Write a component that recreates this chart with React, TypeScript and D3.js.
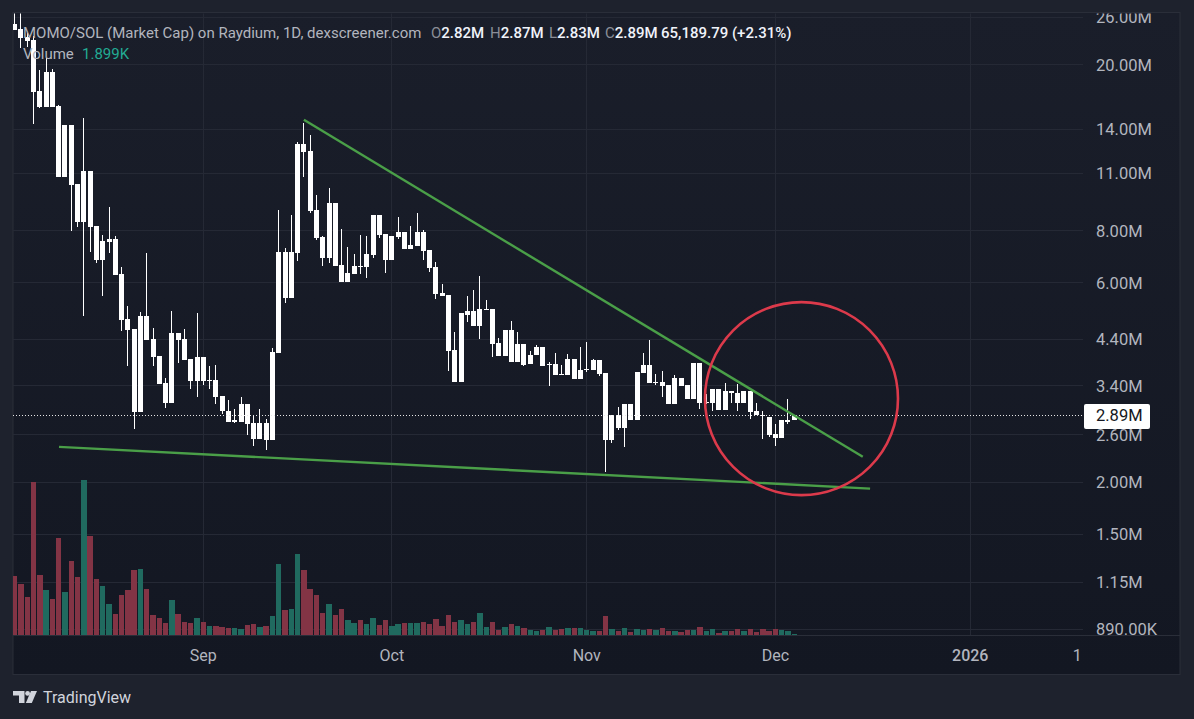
import * as d3 from "d3";

// prices in millions, one entry per daily candle starting 2 Aug 2025
const opens = [
  25.0, 24.3, 23.3, 22.9, 17.3, 15.8, 19.2, 15.9, 10.77, 14.3,
  10.35, 8.4, 11.13, 8.22, 6.82, 7.53, 7.65, 6.31, 4.93, 4.66,
  2.95, 5.01, 4.41, 4.01, 3.45, 3.1, 4.56, 4.41, 3.94, 3.5,
  3.99, 3.5, 3.52, 3.22, 2.96, 2.79, 2.79, 3.07, 2.77, 2.54,
  2.77, 2.53, 4.08, 7.13, 5.53, 7.09, 12.9, 12.42, 8.97, 7.74,
  6.89, 9.32, 6.63, 6.04, 6.31, 6.6, 6.56, 7.0, 8.74, 7.87,
  6.82, 7.74, 7.96, 7.25, 7.37, 7.96, 7.2, 6.56, 5.68, 5.62,
  4.15, 3.48, 5.03, 5.15, 4.73, 5.18, 5.2, 4.31, 4.01, 4.63,
  3.89, 4.29, 3.84, 4.03, 4.22, 3.82, 3.84, 3.64, 3.62, 3.94,
  3.54, 3.72, 3.72, 3.92, 3.66, 2.53, 2.9, 2.7, 3.07, 2.82,
  3.66, 3.82, 3.46, 3.48, 3.41, 3.07, 3.56, 3.41, 3.17, 3.86,
  3.11, 3.1, 3.35, 2.98, 3.3, 3.27, 3.1, 3.3, 2.96, 2.9,
  2.87, 2.61, 2.55, 2.79, 2.82,
];
const closes = [
  24.2, 23.1, 22.8, 17.2, 15.8, 19.2, 15.8, 10.77, 14.3, 10.3,
  8.4, 11.13, 8.18, 6.82, 7.57, 7.65, 6.28, 4.9, 4.63, 2.95,
  5.01, 4.38, 3.99, 3.43, 3.1, 4.56, 4.38, 3.92, 3.5, 3.99,
  3.5, 3.52, 3.2, 2.96, 2.79, 2.82, 3.07, 2.76, 2.54, 2.77,
  2.53, 4.1, 7.13, 5.53, 7.13, 12.9, 12.35, 8.92, 7.7, 6.89,
  9.32, 6.6, 6.04, 6.35, 6.6, 6.56, 7.05, 8.74, 7.83, 6.82,
  7.78, 7.96, 7.25, 7.41, 7.96, 7.17, 6.53, 5.65, 5.59, 4.13,
  3.48, 5.07, 5.15, 4.73, 5.2, 5.2, 4.29, 4.01, 4.63, 3.89,
  4.29, 3.82, 4.04, 4.22, 3.8, 3.84, 3.62, 3.62, 3.94, 3.54,
  3.72, 3.74, 3.92, 3.64, 2.53, 2.9, 2.7, 3.07, 2.82, 3.68,
  3.82, 3.45, 3.48, 3.39, 3.07, 3.56, 3.39, 3.17, 3.86, 3.1,
  3.12, 3.35, 2.98, 3.3, 3.27, 3.1, 3.3, 2.95, 2.9, 2.88,
  2.6, 2.55, 2.82, 2.82, 2.89,
];
const highs = [
  26.6, 26.6, 23.8, 23.4, 19.4, 20.7, 19.5, 16.0, 14.3, 14.3,
  10.35, 14.9, 11.13, 8.22, 7.83, 9.13, 7.78, 6.56, 5.29, 4.66,
  5.12, 7.09, 4.68, 4.01, 3.56, 5.15, 4.56, 4.66, 3.94, 5.07,
  3.99, 3.8, 3.82, 3.22, 3.15, 3.0, 3.2, 3.07, 2.9, 3.0,
  2.84, 4.19, 8.97, 7.29, 8.74, 13.05, 14.5, 13.56, 9.77, 7.78,
  10.1, 9.32, 8.09, 7.33, 7.05, 7.83, 7.78, 8.74, 8.74, 7.87,
  7.78, 8.64, 7.96, 8.22, 8.82, 8.05, 7.2, 6.75, 5.98, 5.62,
  4.58, 5.07, 5.59, 5.78, 6.24, 5.47, 5.2, 4.43, 4.63, 4.87,
  4.58, 4.29, 4.12, 4.26, 4.22, 3.89, 4.08, 3.82, 4.05, 3.94,
  4.22, 4.34, 3.94, 3.92, 3.66, 2.9, 3.03, 3.07, 3.07, 3.68,
  4.08, 4.38, 3.64, 3.7, 3.41, 3.62, 3.56, 3.41, 3.86, 3.86,
  3.25, 3.35, 3.35, 3.45, 3.3, 3.43, 3.3, 3.3, 3.1, 2.96,
  2.87, 2.76, 2.82, 3.17, 2.89,
];
const lows = [
  24.2, 21.9, 22.05, 14.43, 15.7, 15.8, 15.8, 10.77, 10.77, 8.0,
  8.18, 5.01, 7.13, 6.71, 5.59, 7.09, 6.28, 4.6, 3.8, 2.68,
  2.95, 4.38, 3.8, 3.43, 3.01, 3.1, 3.86, 3.92, 3.35, 3.2,
  3.41, 3.35, 3.07, 2.91, 2.79, 2.77, 2.79, 2.6, 2.44, 2.54,
  2.39, 2.53, 4.08, 5.36, 5.53, 6.78, 10.77, 8.82, 7.61, 6.6,
  6.71, 6.6, 6.04, 6.04, 6.31, 6.31, 6.18, 6.89, 7.7, 6.35,
  6.82, 7.65, 7.25, 7.25, 7.37, 6.82, 6.38, 5.5, 5.59, 3.7,
  3.48, 3.48, 4.84, 4.73, 4.41, 5.18, 3.99, 4.01, 4.01, 3.89,
  3.89, 3.8, 3.84, 4.03, 3.8, 3.39, 3.62, 3.62, 3.62, 3.54,
  3.54, 3.68, 3.72, 3.6, 2.12, 2.48, 2.66, 2.43, 2.82, 2.82,
  3.66, 3.45, 3.41, 3.2, 3.07, 3.07, 3.39, 3.17, 3.17, 3.0,
  3.07, 2.96, 2.98, 2.98, 3.1, 2.96, 3.1, 2.84, 2.9, 2.54,
  2.57, 2.44, 2.55, 2.76, 2.82,
];
// volume in thousands
const volumes = [
  177, 153, 114, 459, 180, 135, 108, 291, 129, 222,
  174, 465, 297, 168, 147, 93, 63, 120, 135, 195,
  198, 138, 60, 51, 36, 105, 63, 39, 36, 51,
  39, 27, 27, 24, 21, 21, 18, 30, 33, 24,
  27, 57, 213, 75, 78, 243, 195, 138, 120, 66,
  93, 60, 78, 45, 36, 45, 33, 51, 30, 45,
  27, 33, 36, 36, 36, 39, 33, 48, 27, 60,
  39, 45, 33, 39, 66, 24, 39, 15, 24, 33,
  27, 21, 15, 12, 15, 24, 15, 18, 21, 21,
  21, 15, 12, 12, 57, 18, 12, 21, 9, 18,
  15, 18, 15, 21, 12, 12, 9, 15, 15, 24,
  12, 18, 6, 12, 12, 18, 12, 18, 9, 18,
  12, 18, 15, 12, 1.899,
];

const priceTicks = [26, 20, 14, 11, 8, 6, 4.4, 3.4, 2.6, 2, 1.5, 1.15, 0.89];
const timeTicks = [
  { day: 30, label: "Sep", grid: true },
  { day: 60, label: "Oct", grid: true },
  { day: 91, label: "Nov", grid: true },
  { day: 121, label: "Dec", grid: true },
  { day: 152, label: "2026", grid: true },
  { day: 169, label: "1", grid: false },
];
const lastPrice = 2.89;

// drawn annotations: [day, price]
const upperTrend: [number, number][] = [[46.0, 14.75], [134.9, 2.3]];
const lowerTrend: [number, number][] = [[7.05, 2.43], [136.06, 1.93]];
const circleCentre = { day: 125.15, price: 3.17 };

const legendLead = "MOMO/SOL (Market Cap) on Raydium, 1D, dexscreener.com";
const legendOhlc = [
  { key: "O", value: "2.82M", x: 431 },
  { key: "H", value: "2.87M", x: 490 },
  { key: "L", value: "2.83M", x: 549 },
  { key: "C", value: "2.89M", x: 605 },
];
const legendChange = "65,189.79 (+2.31%)";

const W = 1194;
const H = 719;
const pane = { left: 13, right: 1180, top: 12.5, bottom: 674.5 };
const plotRight = 1083;
const volumeBase = 635;
const FONT = "Roboto, 'Noto Sans', sans-serif";

const x = d3.scaleLinear().domain([0, 30]).range([14.7, 203.3]);
const y = d3.scaleLog().domain([0.89, 26]).range([629, 17]);
const yVol = d3.scaleLinear().domain([0, 465]).range([volumeBase, 480]);

const fmtPrice = (v: number) =>
  v >= 1 ? `${v.toFixed(2)}M` : `${(v * 1000).toFixed(2)}K`;

const trendPath = d3
  .line<[number, number]>()
  .x((d) => x(d[0]))
  .y((d) => y(d[1]));

const candleW = 5;

export default function App() {
  const lastY = Math.round(y(lastPrice));
  return (
    <svg
      width={W}
      height={H}
      viewBox={`0 0 ${W} ${H}`}
      style={{ position: "absolute", left: 0, top: 0, display: "block" }}
      fontFamily={FONT}
    >
      <defs>
        <linearGradient id="paneBg" x1="0" y1="0" x2="0" y2="1">
          <stop offset="0" stopColor="#1a1e2a" />
          <stop offset="1" stopColor="#131722" />
        </linearGradient>
        <clipPath id="paneClip">
          <rect
            x={pane.left}
            y={pane.top + 1}
            width={pane.right - pane.left}
            height={pane.bottom - pane.top - 1}
          />
        </clipPath>
      </defs>
      <rect width={W} height={H} fill="#1e222d" />
      <rect
        x={pane.left}
        y={pane.top}
        width={pane.right - pane.left}
        height={pane.bottom - pane.top}
        fill="url(#paneBg)"
        stroke="#2a2e39"
      />

      <g clipPath="url(#paneClip)">
        {/* grid */}
        <g stroke="#252935" strokeWidth={1} shapeRendering="crispEdges">
          {priceTicks.map((t) => (
            <line key={t} x1={pane.left} x2={plotRight} y1={y(t)} y2={y(t)} />
          ))}
          {timeTicks
            .filter((t) => t.grid)
            .map((t) => (
              <line key={t.label} x1={x(t.day)} x2={x(t.day)} y1={pane.top} y2={volumeBase} />
            ))}
        </g>
        <line
          x1={pane.left}
          x2={pane.right}
          y1={volumeBase + 0.5}
          y2={volumeBase + 0.5}
          stroke="#2a2e39"
        />

        {/* volume */}
        <g shapeRendering="crispEdges">
          {volumes.map((v, i) => {
            const left = Math.round(x(i) - 2.7);
            const right = Math.round(x(i) + 2.7);
            return (
              <rect
                key={i}
                x={left}
                y={yVol(v)}
                width={right - left}
                height={volumeBase - yVol(v)}
                fill={closes[i] >= opens[i] ? "#206a5f" : "#833445"}
              />
            );
          })}
        </g>

        {/* candles */}
        <g fill="#ffffff" shapeRendering="crispEdges">
          {opens.map((o, i) => {
            const c = closes[i];
            const top = y(Math.max(o, c));
            const bottom = y(Math.min(o, c));
            const left = Math.round(x(i) - candleW / 2);
            return (
              <g key={i}>
                <rect x={left + 2} y={y(highs[i])} width={1} height={y(lows[i]) - y(highs[i])} />
                <rect x={left} y={top} width={candleW} height={Math.max(bottom - top, 1)} />
              </g>
            );
          })}
        </g>

        {/* last price line */}
        <line
          x1={pane.left}
          x2={plotRight}
          y1={lastY + 0.5}
          y2={lastY + 0.5}
          stroke="#e6e6e6"
          strokeDasharray="1 2"
        />

        {/* annotations */}
        <path d={trendPath(upperTrend) ?? ""} fill="none" stroke="#4a9f48" strokeWidth={2.4} />
        <path d={trendPath(lowerTrend) ?? ""} fill="none" stroke="#4a9f48" strokeWidth={2.4} />
        <circle
          cx={x(circleCentre.day)}
          cy={y(circleCentre.price)}
          r={96.5}
          fill="none"
          stroke="#dc3a4b"
          strokeWidth={2.6}
        />

        {/* price axis */}
        <g fontSize={16.5} fill="#b2b5be">
          {priceTicks.map((t) => (
            <text key={t} x={1096} y={y(t)} dy="0.36em">
              {fmtPrice(t)}
            </text>
          ))}
        </g>
      </g>

      <rect x={1084} y={404} width={66} height={25} rx={2} fill="#ffffff" />
      <text x={1096} y={y(lastPrice)} dy="0.36em" fontSize={16.5} fill="#131722">
        {fmtPrice(lastPrice)}
      </text>

      {/* time axis */}
      <g fontSize={16} fill="#b2b5be" textAnchor="middle">
        {timeTicks.map((t) => (
          <text
            key={t.label}
            x={x(t.day)}
            y={655}
            dy="0.36em"
            fontWeight={t.label === "2026" ? 500 : 400}
          >
            {t.label}
          </text>
        ))}
      </g>

      {/* legend */}
      <g fontSize={15}>
        <text x={23} y={37.5} fill="#b2b5be">
          {legendLead}
        </text>
        {legendOhlc.map((d) => (
          <text key={d.key} x={d.x} y={37.5} fill="#8b8e97">
            {d.key}
            <tspan fill="#f0f3fa" fontWeight={500}>
              {d.value}
            </tspan>
          </text>
        ))}
        <text x={661} y={37.5} fill="#f0f3fa" fontWeight={500}>
          {legendChange}
        </text>
        <text x={23} y={59} fill="#b2b5be">
          Volume
        </text>
        <text x={82} y={59} fill="#22ab94">
          1.899K
        </text>
      </g>

      {/* logo */}
      <g fill="#d1d4dc">
        <path d="M13 691h11.5v12h-5.5v-7.4h-6z" />
        <circle cx={27.6} cy={693.4} r={2.4} />
        <path d="M31 691h6l-5.2 12h-6z" />
      </g>
      <text x={43} y={703} fontSize={16} fill="#d1d4dc">
        TradingView
      </text>
    </svg>
  );
}
